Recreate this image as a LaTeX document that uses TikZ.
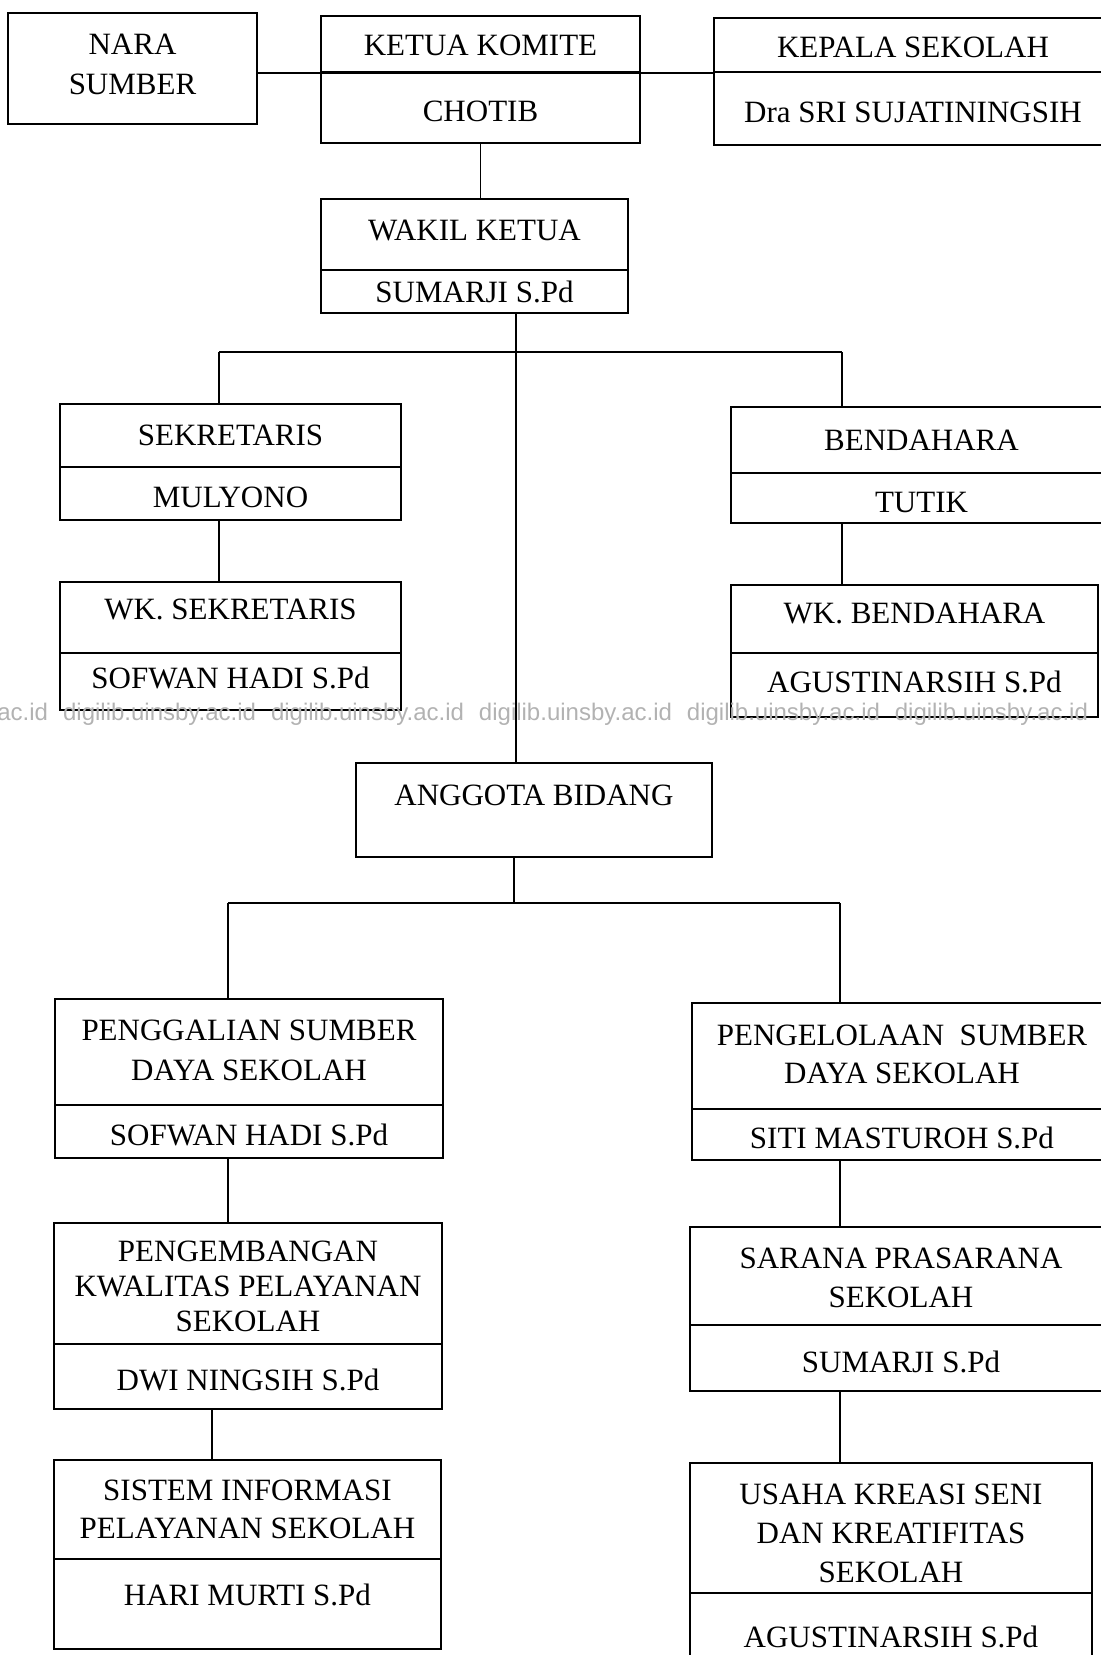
\documentclass[tikz,border=0pt]{standalone}
\usepackage{fontspec}
\setmainfont{Liberation Serif}
\newfontfamily\markfont{Liberation Sans}
\usetikzlibrary{fit}
\tikzset{
  part/.style={draw, line width=1.1pt, inner sep=0pt},
  txt/.style={align=center, inner sep=0pt, font=\fontsize{15.5}{20}\selectfont},
  link/.style={line width=0.8pt},
}
\begin{document}
\begin{tikzpicture}[x=0.5pt, y=-0.5pt]
        \useasboundingbox (0,0) rectangle (1100,1655);
        % top row
        \node[part, fit={(8,13) (257,124)}, label={[txt, yshift=2pt]center:NARA\\SUMBER}] (nara) {};
        \node[part, fit={(321,16) (640,72)}, label={[txt, yshift=-0.5pt]center:KETUA KOMITE}] (ketuaA) {};
        \node[part, fit={(321,72) (640,143)}, label={[txt, yshift=-2pt]center:CHOTIB}] (ketuaB) {};
        \node[part, fit={(714,18) (1112,72)}, label={[txt, yshift=-1pt]center:KEPALA SEKOLAH}] (kepalaA) {};
        \node[part, fit={(714,72) (1112,145)}, label={[txt, yshift=-2pt]center:Dra SRI SUJATININGSIH}] (kepalaB) {};
        \node[part, fit={(321,199) (628,270)}, label={[txt, yshift=2pt]center:WAKIL KETUA}] (wakilA) {};
        \node[part, fit={(321,270) (628,313)}, label={[txt]center:SUMARJI S.Pd}] (wakilB) {};
        % sekretaris / bendahara
        \node[part, fit={(60,404) (401,467)}, label={[txt]center:SEKRETARIS}] (sekA) {};
        \node[part, fit={(60,467) (401,520)}, label={[txt, yshift=-2pt]center:MULYONO}] (sekB) {};
        \node[part, fit={(60,582) (401,653)}, label={[txt, yshift=4pt]center:WK. SEKRETARIS}] (wksekA) {};
        \node[part, fit={(60,653) (401,710)}, label={[txt, yshift=2pt]center:SOFWAN HADI S.Pd}] (wksekB) {};
        \node[part, fit={(731,407) (1112,473)}, label={[txt]center:BENDAHARA}] (benA) {};
        \node[part, fit={(731,473) (1112,523)}, label={[txt, yshift=-2pt]center:TUTIK}] (benB) {};
        \node[part, fit={(731,585) (1098,653)}, label={[txt, yshift=3pt]center:WK. BENDAHARA}] (wkbenA) {};
        \node[part, fit={(731,653) (1098,717)}, label={[txt, yshift=1.5pt]center:AGUSTINARSIH S.Pd}] (wkbenB) {};
        \node[part, fit={(356,763) (712,857)}, label={[txt, yshift=7.5pt]center:ANGGOTA BIDANG}] (anggota) {};
        % bidang kiri
        \node[part, fit={(55,999) (443,1105)}, label={[txt, yshift=1pt]center:PENGGALIAN SUMBER\\DAYA SEKOLAH}] (galiA) {};
        \node[part, fit={(55,1105) (443,1158)}, label={[txt, yshift=-1.5pt]center:SOFWAN HADI S.Pd}] (galiB) {};
        \node[part, fit={(54,1223) (442,1344)}, label={[txt, font=\fontsize{15.5}{17.5}\selectfont, yshift=-1.5pt]center:PENGEMBANGAN\\KWALITAS PELAYANAN\\SEKOLAH}] (kembA) {};
        \node[part, fit={(54,1344) (442,1409)}, label={[txt, yshift=-1.5pt]center:DWI NINGSIH S.Pd}] (kembB) {};
        \node[part, fit={(54,1460) (441,1559)}, label={[txt, font=\fontsize{15.5}{19}\selectfont]center:SISTEM INFORMASI\\PELAYANAN SEKOLAH}] (sisA) {};
        \node[part, fit={(54,1559) (441,1649)}, label={[txt, yshift=4.5pt]center:HARI MURTI S.Pd}] (sisB) {};
        % bidang kanan
        \node[part, fit={(692,1003) (1112,1109)}, label={[txt, font=\fontsize{15.5}{19}\selectfont, yshift=1pt]center:PENGELOLAAN~~SUMBER\\DAYA SEKOLAH}] (kelolaA) {};
        \node[part, fit={(692,1109) (1112,1160)}, label={[txt, yshift=-1.5pt]center:SITI MASTUROH S.Pd}] (kelolaB) {};
        \node[part, fit={(690,1227) (1112,1325)}, label={[txt, font=\fontsize{15.5}{19.5}\selectfont, yshift=-1pt]center:SARANA PRASARANA\\SEKOLAH}] (saranaA) {};
        \node[part, fit={(690,1325) (1112,1391)}, label={[txt, yshift=-2pt]center:SUMARJI S.Pd}] (saranaB) {};
        \node[part, fit={(690,1463) (1092,1593)}, label={[txt, font=\fontsize{15.5}{19.5}\selectfont, yshift=-2.5pt]center:USAHA KREASI SENI\\DAN KREATIFITAS\\SEKOLAH}] (usahaA) {};
        \node[part, fit={(690,1593) (1092,1680)}, label={[txt]center:AGUSTINARSIH S.Pd}] (usahaB) {};
        % connectors
        \coordinate (trunk) at (516,352);
        \coordinate (splitL) at (219,352);
        \coordinate (splitR) at (842,352);
        \coordinate (branch) at (514,903);
        \coordinate (branchL) at (228,903);
        \coordinate (branchR) at (840,903);
        \coordinate (linkL) at (212,1409);
        \draw[link] (nara.east |- ketuaA.south) -- (kepalaA.south west);
        \draw[link] (ketuaB.south) -- (ketuaB.south |- wakilA.north);
        \draw[link] (wakilB.south -| trunk) -- (trunk |- anggota.north);
        \draw[link] (splitL) -- (splitR);
        \draw[link] (splitL) -- (splitL |- sekA.north);
        \draw[link] (splitL |- sekB.south) -- (splitL |- wksekA.north);
        \draw[link] (splitR) -- (splitR |- benA.north);
        \draw[link] (splitR |- benB.south) -- (splitR |- wkbenA.north);
        \draw[link] (anggota.south -| branch) -- (branch);
        \draw[link] (branchL) -- (branchR);
        \draw[link] (branchL) -- (branchL |- galiA.north);
        \draw[link] (branchR) -- (branchR |- kelolaA.north);
        \draw[link] (galiB.south -| branchL) -- (branchL |- kembA.north);
        \draw[link] (linkL) -- (linkL |- sisA.north);
        \draw[link] (kelolaB.south -| branchR) -- (branchR |- saranaA.north);
        \draw[link] (saranaB.south -| branchR) -- (branchR |- usahaA.north);
        % watermark
        \node[anchor=west, inner sep=0pt, text=black!30, font=\markfont\fontsize{12}{14}\selectfont] (mark) at (-3,714)
          {ac.id\hspace{7.5pt}digilib.uinsby.ac.id\hspace{7.5pt}digilib.uinsby.ac.id\hspace{7.5pt}digilib.uinsby.ac.id\hspace{7.5pt}digilib.uinsby.ac.id\hspace{7.5pt}digilib.uinsby.ac.id};
\end{tikzpicture}
\end{document}
